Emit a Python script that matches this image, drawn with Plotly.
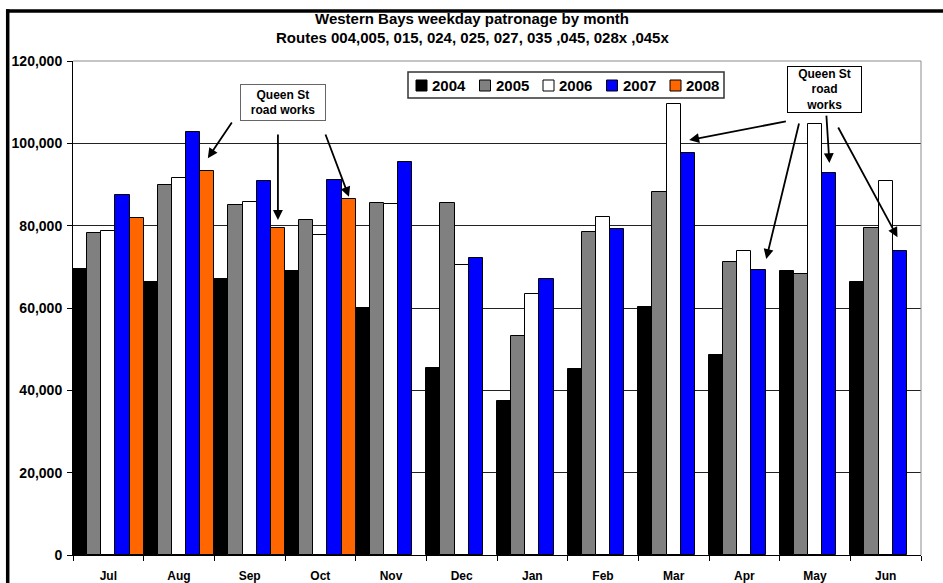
import plotly.graph_objects as go

# Monthly weekday patronage, Western Bays routes (financial year Jul-Jun)
months = ["Jul", "Aug", "Sep", "Oct", "Nov", "Dec", "Jan", "Feb", "Mar", "Apr", "May", "Jun"]
years = ["2004", "2005", "2006", "2007", "2008"]
colors = ["#000000", "#808080", "#FFFFFF", "#0000FF", "#FF6600"]

p2004 = [69400, 66400, 67000, 69100, 60100, 45500, 37400, 45300, 60300, 48600, 69000, 66400]
p2005 = [78100, 89900, 85000, 81300, 85600, 85600, 53200, 78400, 88200, 71200, 68200, 79400]
p2006 = [78600, 91700, 85700, 77700, 85200, 70400, 63300, 82100, 109500, 73900, 104700, 90900]
p2007 = [87400, 102700, 90900, 91000, 95400, 72100, 67100, 79100, 97600, 69300, 92900, 73800]
p2008 = [81800, 93300, 79400, 86500, None, None, None, None, None, None, None, None]
series = [p2004, p2005, p2006, p2007, p2008]

title_lines = ["Western Bays weekday patronage by month",
               "Routes 004,005, 015, 024, 025, 027, 035 ,045, 028x ,045x"]
note_left = "Queen St<br>road works"
note_right = "Queen St<br>road<br>works"

FONT = "Liberation Sans, Arial, sans-serif"
W, H = 943, 583
L, R, T, B = 73, 22, 61, 28
PW, PH = W - L - R, H - T - B


def px(x):
    return (x - L) / PW


def py(y):
    return (H - B - y) / PH


fig = go.Figure()
for name, vals, col in zip(years, series, colors):
    fig.add_trace(go.Bar(
        x=months, y=vals, name=name,
        marker=dict(color=col, line=dict(color="#000000", width=1)),
        showlegend=False,
    ))

shapes = []
annotations = []

# Title
for i, line in enumerate(title_lines):
    annotations.append(dict(
        text=line, xref="paper", yref="paper", x=px(472), y=py(19 + 18.5 * i),
        xanchor="center", yanchor="middle", showarrow=False,
        font=dict(family=FONT, size=15, color="#000", weight="bold"),
    ))

# Outer frame of the chart (top and left edges; the others run off the page)
shapes.append(dict(type="line", xref="paper", yref="paper",
                   x0=px(6), x1=px(943), y0=py(11), y1=py(11),
                   line=dict(color="#000", width=3.5)))
shapes.append(dict(type="line", xref="paper", yref="paper",
                   x0=px(7.7), x1=px(7.7), y0=py(9.3), y1=py(583),
                   line=dict(color="#000", width=3.5)))
# Plot-area border (top and right)
shapes.append(dict(type="line", xref="paper", yref="paper", x0=0, x1=1, y0=1, y1=1,
                   line=dict(color="#8c8c8c", width=1)))
shapes.append(dict(type="line", xref="paper", yref="paper", x0=1, x1=1, y0=0, y1=1,
                   line=dict(color="#8c8c8c", width=1)))

# Legend box with coloured keys
shapes.append(dict(type="rect", xref="paper", yref="paper",
                   x0=px(408), x1=px(724), y0=py(98), y1=py(72),
                   line=dict(color="#333", width=1.5), fillcolor="#FFFFFF"))
for i, (name, col) in enumerate(zip(years, colors)):
    x0 = 416 + 63.5 * i
    shapes.append(dict(type="rect", xref="paper", yref="paper",
                       x0=px(x0), x1=px(x0 + 11), y0=py(91), y1=py(80),
                       line=dict(color="#000", width=1), fillcolor=col))
    annotations.append(dict(
        text=name, xref="paper", yref="paper", x=px(x0 + 14), y=py(85.5),
        xanchor="left", yanchor="middle", showarrow=False,
        font=dict(family=FONT, size=15, color="#000", weight="bold"),
    ))

# Road-works notes
annotations.append(dict(
    text=note_left, xref="paper", yref="paper", x=px(283), y=py(102.5),
    xanchor="center", yanchor="middle", showarrow=False, align="center",
    width=82, height=33, borderpad=1, bordercolor="#666", borderwidth=1, bgcolor="#FFF",
    font=dict(family=FONT, size=12, color="#000", weight="bold"),
))
annotations.append(dict(
    text=note_right, xref="paper", yref="paper", x=px(824.5), y=py(89.5),
    xanchor="center", yanchor="middle", showarrow=False, align="center",
    width=71, height=43, borderpad=1, bordercolor="#000", borderwidth=1, bgcolor="#FFF",
    font=dict(family=FONT, size=12, color="#000", weight="bold"),
))

# Arrows: (tail x, tail y) -> (head x, head y), x as category index
arrows = [
    (1.762, 105400, 1.408, 96400),
    (2.40, 102500, 2.40, 81400),
    (3.065, 102500, 3.405, 87000),
    (9.609, 105400, 8.22, 100800),
    (9.779, 105200, 9.31, 71900),
    (10.16, 107100, 10.204, 95200),
    (10.317, 104200, 11.167, 77200),
]
for ax_, ay_, hx, hy in arrows:
    annotations.append(dict(
        x=hx, y=hy, xref="x", yref="y", ax=ax_, ay=ay_, axref="x", ayref="y",
        text="", showarrow=True, arrowhead=2, arrowsize=1.1, arrowwidth=1.8,
        arrowcolor="#000", standoff=0, startstandoff=0,
    ))

fig.update_layout(
    width=W, height=H,
    margin=dict(l=L, r=R, t=T, b=B, pad=0, autoexpand=False),
    paper_bgcolor="#FFFFFF", plot_bgcolor="#FFFFFF",
    barmode="group", bargap=0, bargroupgap=0,
    font=dict(family=FONT, color="#000"),
    shapes=shapes, annotations=annotations,
    xaxis=dict(
        type="category", showline=True, linecolor="#000", linewidth=1,
        ticks="outside", tickson="boundaries", ticklen=5, tickcolor="#000",
        ticklabelstandoff=10, automargin=False,
        tickfont=dict(family=FONT, size=12, color="#000", weight="bold"),
        showgrid=False, zeroline=False,
    ),
    yaxis=dict(
        range=[0, 120000], dtick=20000, tickformat=",d",
        showline=True, linecolor="#000", linewidth=1,
        ticks="outside", ticklen=5, tickcolor="#000", ticklabelstandoff=2,
        automargin=False,
        showgrid=True, gridcolor="#222", gridwidth=1, zeroline=False,
        tickfont=dict(family=FONT, size=14, color="#000", weight="bold"),
    ),
)

fig.write_html("out.html")
